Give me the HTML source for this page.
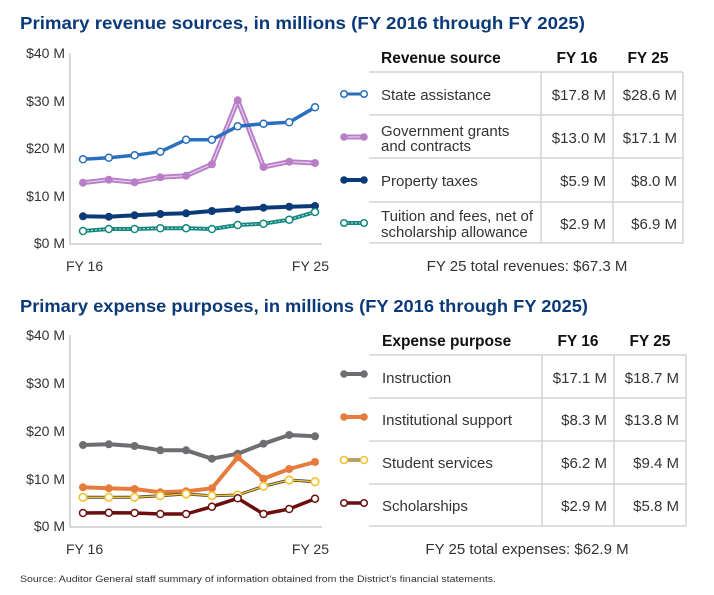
<!DOCTYPE html>
<html><head><meta charset="utf-8"><style>
html,body{margin:0;padding:0;background:#fff;}
svg{display:block;font-family:"Liberation Sans",Arial,sans-serif;}
</style></head><body>
<svg width="714" height="595" viewBox="0 0 714 595" xmlns="http://www.w3.org/2000/svg">
<text x="20" y="29" font-size="17.5" font-weight="bold" fill="#0b3a78" textLength="565" lengthAdjust="spacingAndGlyphs">Primary revenue sources, in millions (FY 2016 through FY 2025)</text>
<text x="20" y="312" font-size="17.5" font-weight="bold" fill="#0b3a78" textLength="568" lengthAdjust="spacingAndGlyphs">Primary expense purposes, in millions (FY 2016 through FY 2025)</text>

<g font-size="14" fill="#333">
<g text-anchor="end">
<text x="65" y="58">$40 M</text><text x="65" y="106">$30 M</text><text x="65" y="153">$20 M</text><text x="65" y="201">$10 M</text><text x="65" y="248">$0 M</text>
<text x="65" y="340">$40 M</text><text x="65" y="388">$30 M</text><text x="65" y="436">$20 M</text><text x="65" y="484">$10 M</text><text x="65" y="531">$0 M</text>
</g>
<text x="66" y="271">FY 16</text><text x="329" y="271" text-anchor="end">FY 25</text>
<text x="66" y="554">FY 16</text><text x="329" y="554" text-anchor="end">FY 25</text>
</g>
<g stroke="#ccc" stroke-width="1.5" fill="none">
<path d="M70,53V244H322"/>
<path d="M70,335V527H322"/>
</g>

<polyline fill="none" stroke="#b87fc8" stroke-width="5" stroke-linejoin="round" points="83,182.7 108.8,179.7 134.6,182.3 160.3,177.3 186.1,175.7 211.9,164.3 237.7,100.3 263.5,167 289.2,161.7 315,163"/>
<polyline fill="none" stroke="#e6cfee" stroke-width="1.2" points="83,182.7 108.8,179.7 134.6,182.3 160.3,177.3 186.1,175.7 211.9,164.3 237.7,100.3 263.5,167 289.2,161.7 315,163"/>
<g fill="#b87fc8"><circle cx="83" cy="182.7" r="4"/><circle cx="108.8" cy="179.7" r="4"/><circle cx="134.6" cy="182.3" r="4"/><circle cx="160.3" cy="177.3" r="4"/><circle cx="186.1" cy="175.7" r="4"/><circle cx="211.9" cy="164.3" r="4"/><circle cx="237.7" cy="100.3" r="4"/><circle cx="263.5" cy="167" r="4"/><circle cx="289.2" cy="161.7" r="4"/><circle cx="315" cy="163" r="4"/></g>
<polyline fill="none" stroke="#2a6fbd" stroke-width="3.5" stroke-linejoin="round" points="83,159.3 108.8,157.7 134.6,155.3 160.3,151.7 186.1,139.7 211.9,139.7 237.7,126.3 263.5,123.7 289.2,122.3 315,107.3"/>
<g fill="#fff" stroke="#2a6fbd" stroke-width="1.5"><circle cx="83" cy="159.3" r="3.5"/><circle cx="108.8" cy="157.7" r="3.5"/><circle cx="134.6" cy="155.3" r="3.5"/><circle cx="160.3" cy="151.7" r="3.5"/><circle cx="186.1" cy="139.7" r="3.5"/><circle cx="211.9" cy="139.7" r="3.5"/><circle cx="237.7" cy="126.3" r="3.5"/><circle cx="263.5" cy="123.7" r="3.5"/><circle cx="289.2" cy="122.3" r="3.5"/><circle cx="315" cy="107.3" r="3.5"/></g>
<polyline fill="none" stroke="#0b3a78" stroke-width="4" stroke-linejoin="round" points="83,216.3 108.8,216.7 134.6,215.3 160.3,214 186.1,213.3 211.9,211 237.7,209.3 263.5,207.7 289.2,206.7 315,206"/>
<g fill="#0b3a78"><circle cx="83" cy="216.3" r="4"/><circle cx="108.8" cy="216.7" r="4"/><circle cx="134.6" cy="215.3" r="4"/><circle cx="160.3" cy="214" r="4"/><circle cx="186.1" cy="213.3" r="4"/><circle cx="211.9" cy="211" r="4"/><circle cx="237.7" cy="209.3" r="4"/><circle cx="263.5" cy="207.7" r="4"/><circle cx="289.2" cy="206.7" r="4"/><circle cx="315" cy="206" r="4"/></g>
<polyline fill="none" stroke="#14877f" stroke-width="4" stroke-linejoin="round" points="83,231 108.8,229 134.6,229 160.3,228.3 186.1,228.3 211.9,229 237.7,225 263.5,223.7 289.2,219.7 315,212"/>
<polyline fill="none" stroke="#bfe3e0" stroke-width="1" stroke-dasharray="2,2" points="83,231 108.8,229 134.6,229 160.3,228.3 186.1,228.3 211.9,229 237.7,225 263.5,223.7 289.2,219.7 315,212"/>
<g fill="#fff" stroke="#14877f" stroke-width="1.5"><circle cx="83" cy="231" r="3.5"/><circle cx="108.8" cy="229" r="3.5"/><circle cx="134.6" cy="229" r="3.5"/><circle cx="160.3" cy="228.3" r="3.5"/><circle cx="186.1" cy="228.3" r="3.5"/><circle cx="211.9" cy="229" r="3.5"/><circle cx="237.7" cy="225" r="3.5"/><circle cx="263.5" cy="223.7" r="3.5"/><circle cx="289.2" cy="219.7" r="3.5"/><circle cx="315" cy="212" r="3.5"/></g>

<polyline fill="none" stroke="#6d6e71" stroke-width="4" stroke-linejoin="round" points="83,445 108.8,444.3 134.6,446 160.3,450.3 186.1,450.3 211.9,458.7 237.7,453.7 263.5,443.7 289.2,435 315,436.3"/>
<g fill="#6d6e71"><circle cx="83" cy="445" r="4"/><circle cx="108.8" cy="444.3" r="4"/><circle cx="134.6" cy="446" r="4"/><circle cx="160.3" cy="450.3" r="4"/><circle cx="186.1" cy="450.3" r="4"/><circle cx="211.9" cy="458.7" r="4"/><circle cx="237.7" cy="453.7" r="4"/><circle cx="263.5" cy="443.7" r="4"/><circle cx="289.2" cy="435" r="4"/><circle cx="315" cy="436.3" r="4"/></g>
<polyline fill="none" stroke="#e57c3c" stroke-width="4" stroke-linejoin="round" points="83,487.3 108.8,488.3 134.6,489 160.3,492.3 186.1,491.3 211.9,488.3 237.7,457.3 263.5,478.7 289.2,469 315,462"/>
<g fill="#e57c3c"><circle cx="83" cy="487.3" r="4"/><circle cx="108.8" cy="488.3" r="4"/><circle cx="134.6" cy="489" r="4"/><circle cx="160.3" cy="492.3" r="4"/><circle cx="186.1" cy="491.3" r="4"/><circle cx="211.9" cy="488.3" r="4"/><circle cx="237.7" cy="457.3" r="4"/><circle cx="263.5" cy="478.7" r="4"/><circle cx="289.2" cy="469" r="4"/><circle cx="315" cy="462" r="4"/></g>
<polyline fill="none" stroke="#444" stroke-width="3" stroke-linejoin="round" points="83,497.3 108.8,497.3 134.6,497.3 160.3,495.7 186.1,494 211.9,495.7 237.7,495 263.5,486.3 289.2,480 315,481.7"/>
<polyline fill="none" stroke="#f2c232" stroke-width="1.4" stroke-linejoin="round" points="83,497.3 108.8,497.3 134.6,497.3 160.3,495.7 186.1,494 211.9,495.7 237.7,495 263.5,486.3 289.2,480 315,481.7"/>
<g fill="#fff" stroke="#f2c232" stroke-width="1.6"><circle cx="83" cy="497.3" r="3.8"/><circle cx="108.8" cy="497.3" r="3.8"/><circle cx="134.6" cy="497.3" r="3.8"/><circle cx="160.3" cy="495.7" r="3.8"/><circle cx="186.1" cy="494" r="3.8"/><circle cx="211.9" cy="495.7" r="3.8"/><circle cx="237.7" cy="495" r="3.8"/><circle cx="263.5" cy="486.3" r="3.8"/><circle cx="289.2" cy="480" r="3.8"/><circle cx="315" cy="481.7" r="3.8"/></g>
<polyline fill="none" stroke="#6b0e0e" stroke-width="3.5" stroke-linejoin="round" points="83,513 108.8,512.7 134.6,513 160.3,514 186.1,514 211.9,506.7 237.7,498.3 263.5,514 289.2,509 315,498.7"/>
<g fill="#fff" stroke="#6b0e0e" stroke-width="1.5"><circle cx="83" cy="513" r="3.5"/><circle cx="108.8" cy="512.7" r="3.5"/><circle cx="134.6" cy="513" r="3.5"/><circle cx="160.3" cy="514" r="3.5"/><circle cx="186.1" cy="514" r="3.5"/><circle cx="211.9" cy="506.7" r="3.5"/><circle cx="237.7" cy="498.3" r="3.5"/><circle cx="263.5" cy="514" r="3.5"/><circle cx="289.2" cy="509" r="3.5"/><circle cx="315" cy="498.7" r="3.5"/></g>

<g stroke="#d0d3d8" stroke-width="1.5" fill="none">
<path d="M369,72H683M369,115H683M369,158H683M369,202H683M369,243H683"/>
<path d="M541,72V243M613,72V243M683,72V243"/>
<path d="M369,355H686M369,398H686M369,441H686M369,484H686M369,526H686"/>
<path d="M542,355V526M614,355V526M686,355V526"/>
</g>
<g font-size="15.5" font-weight="bold" fill="#111">
<text x="381" y="63">Revenue source</text><text x="577" y="63" text-anchor="middle">FY 16</text><text x="648" y="63" text-anchor="middle">FY 25</text>
<text x="382" y="346">Expense purpose</text><text x="578" y="346" text-anchor="middle">FY 16</text><text x="650" y="346" text-anchor="middle">FY 25</text>
</g>
<g font-size="15" fill="#333">
<text x="381" y="100">State assistance</text>
<text x="381" y="136">Government grants</text><text x="381" y="151">and contracts</text>
<text x="381" y="186">Property taxes</text>
<text x="381" y="221">Tuition and fees, net of</text><text x="381" y="237">scholarship allowance</text>
<g text-anchor="end">
<text x="606" y="100">$17.8 M</text><text x="677" y="100">$28.6 M</text>
<text x="606" y="143">$13.0 M</text><text x="677" y="143">$17.1 M</text>
<text x="606" y="186">$5.9 M</text><text x="677" y="186">$8.0 M</text>
<text x="606" y="229">$2.9 M</text><text x="677" y="229">$6.9 M</text>
</g>
<text x="527" y="271" text-anchor="middle">FY 25 total revenues: $67.3 M</text>

<text x="382" y="383">Instruction</text>
<text x="382" y="425">Institutional support</text>
<text x="382" y="468">Student services</text>
<text x="382" y="511">Scholarships</text>
<g text-anchor="end">
<text x="607" y="383">$17.1 M</text><text x="679" y="383">$18.7 M</text>
<text x="607" y="425">$8.3 M</text><text x="679" y="425">$13.8 M</text>
<text x="607" y="468">$6.2 M</text><text x="679" y="468">$9.4 M</text>
<text x="607" y="511">$2.9 M</text><text x="679" y="511">$5.8 M</text>
</g>
<text x="527" y="554" text-anchor="middle">FY 25 total expenses: $62.9 M</text>
</g>

<g>
<line x1="344" y1="94" x2="364" y2="94" stroke="#2a6fbd" stroke-width="3"/><circle cx="344" cy="94" r="3.3" fill="#fff" stroke="#2a6fbd" stroke-width="1.5"/><circle cx="364" cy="94" r="3.3" fill="#fff" stroke="#2a6fbd" stroke-width="1.5"/>
<line x1="344" y1="137" x2="364" y2="137" stroke="#b87fc8" stroke-width="5"/><line x1="346" y1="137" x2="362" y2="137" stroke="#e6cfee" stroke-width="1.2"/><circle cx="344" cy="137" r="3.8" fill="#b87fc8"/><circle cx="364" cy="137" r="3.8" fill="#b87fc8"/>
<line x1="344" y1="180" x2="364" y2="180" stroke="#0b3a78" stroke-width="4"/><circle cx="344" cy="180" r="3.8" fill="#0b3a78"/><circle cx="364" cy="180" r="3.8" fill="#0b3a78"/>
<line x1="344" y1="223" x2="364" y2="223" stroke="#14877f" stroke-width="4"/><line x1="347" y1="223" x2="361" y2="223" stroke="#bfe3e0" stroke-width="1" stroke-dasharray="2,2"/><circle cx="344" cy="223" r="3.3" fill="#fff" stroke="#14877f" stroke-width="1.5"/><circle cx="364" cy="223" r="3.3" fill="#fff" stroke="#14877f" stroke-width="1.5"/>

<line x1="344" y1="374" x2="364" y2="374" stroke="#6d6e71" stroke-width="4"/><circle cx="344" cy="374" r="3.8" fill="#6d6e71"/><circle cx="364" cy="374" r="3.8" fill="#6d6e71"/>
<line x1="344" y1="417" x2="364" y2="417" stroke="#e57c3c" stroke-width="4"/><circle cx="344" cy="417" r="3.8" fill="#e57c3c"/><circle cx="364" cy="417" r="3.8" fill="#e57c3c"/>
<line x1="344" y1="460" x2="364" y2="460" stroke="#444" stroke-width="3"/><line x1="344" y1="460" x2="364" y2="460" stroke="#f2c232" stroke-width="1.4"/><circle cx="344" cy="460" r="3.5" fill="#fff" stroke="#f2c232" stroke-width="1.6"/><circle cx="364" cy="460" r="3.5" fill="#fff" stroke="#f2c232" stroke-width="1.6"/>
<line x1="344" y1="503" x2="364" y2="503" stroke="#6b0e0e" stroke-width="3.5"/><circle cx="344" cy="503" r="3.3" fill="#fff" stroke="#6b0e0e" stroke-width="1.5"/><circle cx="364" cy="503" r="3.3" fill="#fff" stroke="#6b0e0e" stroke-width="1.5"/>
</g>

<text x="20" y="582" font-size="9" fill="#333" textLength="476" lengthAdjust="spacingAndGlyphs">Source: Auditor General staff summary of information obtained from the District’s financial statements.</text>
</svg>
</body></html>
